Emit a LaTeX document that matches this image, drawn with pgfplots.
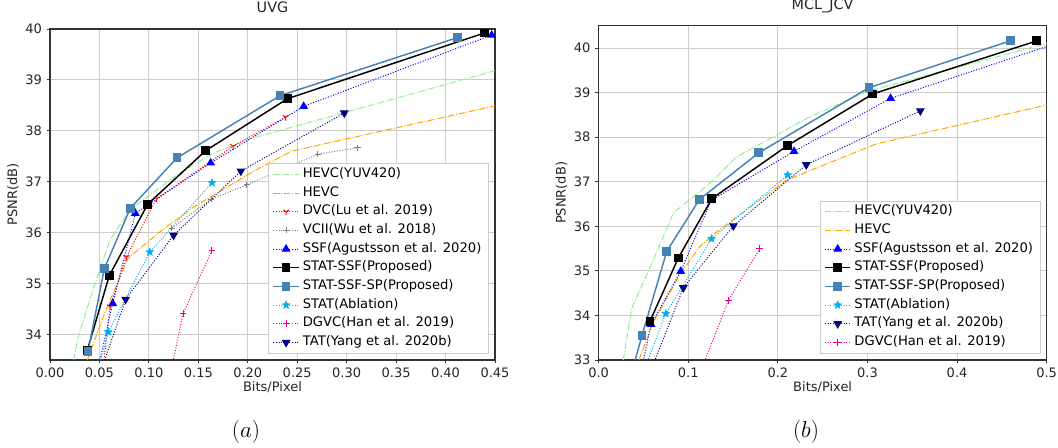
\documentclass[border=0pt]{standalone}
\usepackage{fontspec}
\setmainfont{DejaVu Sans}
\usepackage{pgfplots}
\pgfplotsset{compat=1.18}

% filled five-point star (matplotlib '*')
\pgfdeclareplotmark{fstar}{%
  \pgfpathmoveto{\pgfpointpolar{90}{\pgfplotmarksize}}%
  \pgfpathlineto{\pgfpointpolar{126}{0.42*\pgfplotmarksize}}%
  \pgfpathlineto{\pgfpointpolar{162}{\pgfplotmarksize}}%
  \pgfpathlineto{\pgfpointpolar{198}{0.42*\pgfplotmarksize}}%
  \pgfpathlineto{\pgfpointpolar{234}{\pgfplotmarksize}}%
  \pgfpathlineto{\pgfpointpolar{270}{0.42*\pgfplotmarksize}}%
  \pgfpathlineto{\pgfpointpolar{306}{\pgfplotmarksize}}%
  \pgfpathlineto{\pgfpointpolar{342}{0.42*\pgfplotmarksize}}%
  \pgfpathlineto{\pgfpointpolar{18}{\pgfplotmarksize}}%
  \pgfpathlineto{\pgfpointpolar{54}{0.42*\pgfplotmarksize}}%
  \pgfpathclose
  \pgfusepathqfillstroke}

\definecolor{lgreen}{RGB}{144,238,144}
\definecolor{orng}{RGB}{255,165,0}
\definecolor{steel}{RGB}{70,130,180}
\definecolor{navyc}{RGB}{0,0,128}

\pgfplotsset{
  rd/.style={scale only axis, axis line style={black!80, line width=0.8pt},
    grid=major, major grid style={black!20, line width=0.7pt},
    tick align=outside, major tick length=2.6pt, tick style={black!80, line width=0.7pt},
    xtick pos=bottom, ytick pos=left, scaled ticks=false,
    /pgf/number format/assume math mode=true,
    tick label style={font=\fontsize{9.75}{11}\selectfont, black!85},
    label style={font=\fontsize{9.75}{11}\selectfont, black!85},
    title style={font=\fontsize{10.8}{13}\selectfont, black!85, at={(0.5,1)}, anchor=base, yshift=6pt},
    ylabel={PSNR(dB)}, xlabel={Bits/Pixel},
    legend cell align=left,
    legend image code/.code={%
      \draw[##1, mark=none] (0pt,0pt) -- (19pt,0pt);
      \draw[##1, only marks, mark repeat=1] plot coordinates {(9.5pt,0pt)};},
    legend style={at={(1,0)}, anchor=south east, xshift=-4.5pt, yshift=5pt,
      draw=black!20, fill=white,
      font=\fontsize{9.85}{11}\selectfont, inner xsep=3pt, inner ysep=2pt, row sep=2pt,
      nodes={inner ysep=1.6pt, text height=6.7pt, text depth=2.1pt, inner xsep=2.5pt}},
  },
  pdots/.style={line width=0.75pt, dash pattern=on 0.75pt off 1.25pt},
  pdd/.style={line width=0.75pt, dash pattern=on 4.8pt off 1.2pt on 0.75pt off 1.2pt},
  s420/.style={lgreen, pdd},
  shevc/.style={orng, pdd},
  sdvc/.style={red, pdots, mark=Mercedes star flipped, mark size=2.6pt, mark options={solid, line width=0.75pt}},
  svcii/.style={gray, pdots, mark=+, mark size=2.3pt, mark options={solid, line width=0.75pt}},
  sssf/.style={blue, pdots, mark=triangle*, mark size=3.1pt, mark options={solid}},
  sstat/.style={black, line width=1.1pt, mark=square*, mark size=2.75pt, mark options={solid}},
  ssp/.style={steel, line width=1.1pt, mark=square*, mark size=2.75pt, mark options={solid}},
  sabl/.style={cyan, pdots, mark=fstar, mark size=3pt, mark options={solid, line width=0.4pt}},
  sdgvc/.style={magenta, pdots, mark=+, mark size=2.6pt, mark options={solid, line width=0.75pt}},
  stat/.style={navyc, pdots, mark=triangle*, mark size=3.1pt, mark options={solid, rotate=180}},
}

\begin{document}
\begin{tikzpicture}
\useasboundingbox (0,0) rectangle (793.5pt,336pt);

% ---------- UVG ----------
\begin{axis}[rd, at={(37.5pt,66pt)}, anchor=south west,
  width=333.75pt, height=248.25pt, title={UVG},
  xmin=0, xmax=0.45, ymin=33.5, ymax=40,
  xtick={0,0.05,...,0.46}, ytick={34,35,...,40},
  xticklabel style={/pgf/number format/.cd, fixed, fixed zerofill, precision=2},
  ylabel style={at={(axis description cs:-0.083,0.5)}, anchor=center},
  xlabel style={at={(axis description cs:0.5,-0.094)}, anchor=base}]
\addplot[s420] coordinates {(0.022,33.3) (0.0286,33.97) (0.0455,35.0) (0.0607,35.86)
  (0.081,36.45) (0.131,37.17) (0.165,37.56) (0.2,37.83) (0.45,39.18)};
\addlegendentry{HEVC(YUV420)}
\addplot[shevc] coordinates {(0.034,33.3) (0.054,34.36) (0.079,35.5) (0.11,36.0)
  (0.145,36.5) (0.209,37.24) (0.244,37.6) (0.45,38.49)};
\addlegendentry{HEVC}
\addplot[sdvc] coordinates {(0.054,33.4) (0.0607,34.55) (0.0772,35.52) (0.1078,36.67)
  (0.1853,37.7) (0.2383,38.27)};
\addlegendentry{DVC(Lu et al. 2019)}
\addplot[svcii] coordinates {(0.123,36.09) (0.163,36.66) (0.199,36.94) (0.2706,37.54)
  (0.311,37.67)};
\addlegendentry{VCII(Wu et al. 2018)}
\addplot[sssf] coordinates {(0.047,33.2) (0.0634,34.61) (0.0863,36.38) (0.1625,37.37)
  (0.2565,38.48) (0.4466,39.88)};
\addlegendentry{SSF(Agustsson et al. 2020)}
\addplot[sstat] coordinates {(0.0377,33.69) (0.060,35.16) (0.0988,36.56) (0.1574,37.61)
  (0.240,38.63) (0.439,39.92)};
\addlegendentry{STAT-SSF(Proposed)}
\addplot[ssp] coordinates {(0.0384,33.66) (0.0549,35.29) (0.0812,36.48) (0.1284,37.47)
  (0.2326,38.69) (0.4119,39.83)};
\addlegendentry{STAT-SSF-SP(Proposed)}
\addplot[sabl] coordinates {(0.047,33.2) (0.059,34.05) (0.101,35.62) (0.1638,36.98)};
\addlegendentry{STAT(Ablation)}
\addplot[sdgvc] coordinates {(0.12,33.06) (0.1345,34.41) (0.1638,35.65)};
\addlegendentry{DGVC(Han et al. 2019)}
\addplot[stat] coordinates {(0.05,33.2) (0.0765,34.69) (0.125,35.95) (0.193,37.21)
  (0.2976,38.35)};
\addlegendentry{TAT(Yang et al. 2020b)}
\end{axis}

% ---------- MCL_JCV ----------
\begin{axis}[rd, at={(449pt,66pt)}, anchor=south west,
  width=336pt, height=250.7pt, title={MCL\_JCV},
  xmin=0, xmax=0.5, ymin=33, ymax=40.5,
  xtick={0,0.1,...,0.51}, ytick={33,34,...,40},
  xticklabel style={/pgf/number format/.cd, fixed, fixed zerofill, precision=1},
  ylabel style={at={(axis description cs:-0.083,0.5)}, anchor=center},
  xlabel style={at={(axis description cs:0.5,-0.093)}, anchor=base}]
\addplot[s420] coordinates {(0.0275,33.0) (0.0369,34.16) (0.061,35.24) (0.0834,36.3)
  (0.1244,36.97) (0.154,37.56) (0.199,38.05) (0.232,38.42) (0.3,39.03) (0.5,40.1)};
\addlegendentry{HEVC(YUV420)}
\addplot[shevc] coordinates {(0.045,33.0) (0.06,33.8) (0.09,34.9) (0.113,35.55)
  (0.132,35.88) (0.21,37.04) (0.31,37.85) (0.5,38.72)};
\addlegendentry{HEVC}
\addplot[sssf] coordinates {(0.0479,32.8) (0.0585,33.8) (0.0916,34.99) (0.1255,36.58)
  (0.218,37.68) (0.3258,38.87) (0.51,40.1)};
\addlegendentry{SSF(Agustsson et al. 2020)}
\addplot[sstat] coordinates {(0.0573,33.87) (0.0889,35.29) (0.1263,36.62) (0.2107,37.81)
  (0.306,38.97) (0.489,40.16)};
\addlegendentry{STAT-SSF(Proposed)}
\addplot[ssp] coordinates {(0.04,32.95) (0.0484,33.55) (0.076,35.44) (0.1124,36.6)
  (0.1788,37.65) (0.3017,39.11) (0.4592,40.16)};
\addlegendentry{STAT-SSF-SP(Proposed)}
\addplot[sabl] coordinates {(0.0512,32.8) (0.0749,34.04) (0.126,35.72) (0.211,37.15)};
\addlegendentry{STAT(Ablation)}
\addplot[stat] coordinates {(0.059,32.8) (0.0945,34.62) (0.1504,36.01) (0.2317,37.38)
  (0.359,38.59)};
\addlegendentry{TAT(Yang et al. 2020b)}
\addplot[sdgvc] coordinates {(0.115,32.8) (0.1448,34.34) (0.18,35.5)};
\addlegendentry{DGVC(Han et al. 2019)}
\end{axis}

\node at (184.5pt,12pt) {\fontsize{18.5}{22}\selectfont $(a)$};
\node at (604.5pt,12pt) {\fontsize{18.5}{22}\selectfont $(b)$};
\end{tikzpicture}
\end{document}
